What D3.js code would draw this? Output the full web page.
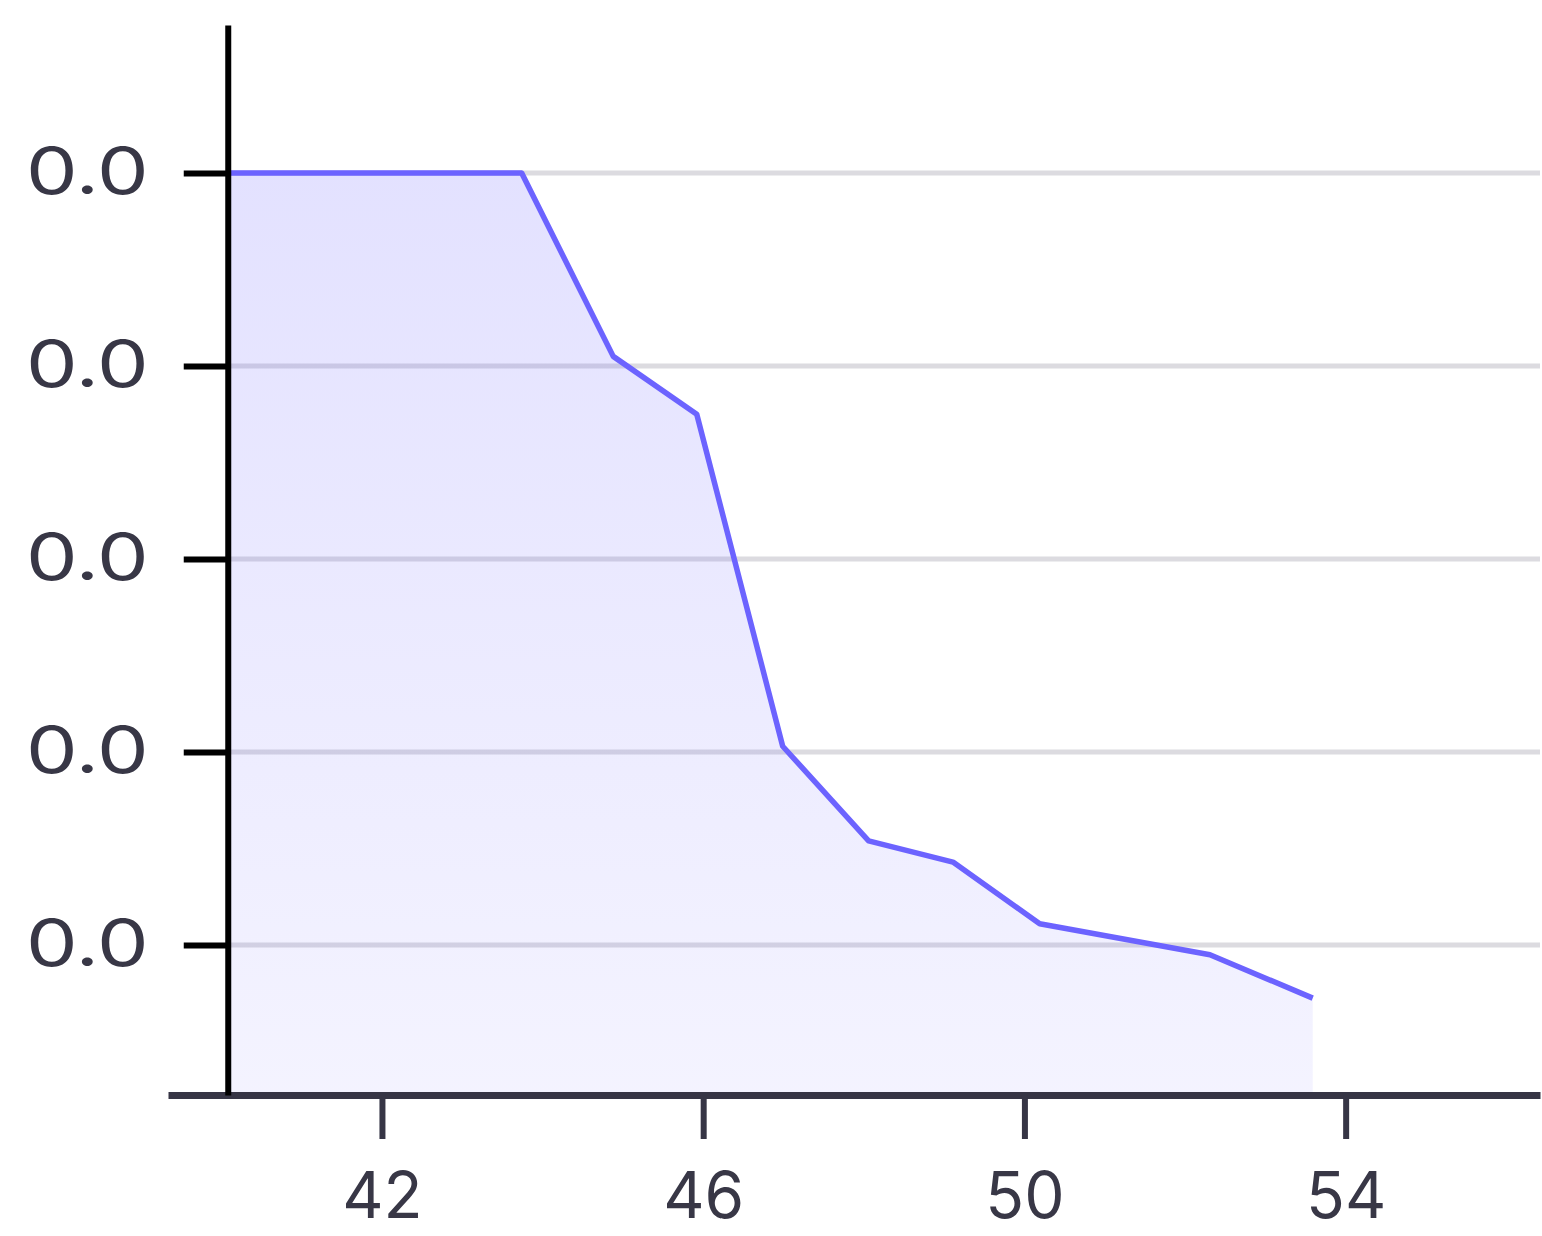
<!DOCTYPE html>
<html>
<head>
<meta charset="utf-8">
<script src="https://cdn.jsdelivr.net/npm/d3@7"></script>
<style>
  html, body { margin: 0; padding: 0; background: #ffffff; }
  svg { display: block; }
</style>
</head>
<body>
<svg id="chart" width="1542" height="1236"></svg>
<script>
const xValues = [40.08, 43.74, 44.88, 45.92, 46.99, 48.06, 49.11, 50.19, 52.31, 53.59];
const yValues = [0.0400, 0.0400, 0.0305, 0.0275, 0.0103, 0.0054, 0.0043, 0.0011, -0.0005, -0.00275];
const xTicks = [42, 46, 50, 54];
const yTicks = [0.00, 0.01, 0.02, 0.03, 0.04];

const data = xValues.map((x, i) => ({ x, y: yValues[i] }));

const svg = d3.select("#chart");
const x = d3.scaleLinear().domain([39.336, 56.42]).range([168, 1540]);
const y = d3.scaleLinear().domain([-0.00777, 0.04767]).range([1095, 25]);

const lineColor = "#6c63ff";
const textColor = "#383746";
const font = "Inter, 'Liberation Sans', sans-serif";

const defs = svg.append("defs");
const grad = defs.append("linearGradient").attr("id", "fillGrad")
  .attr("gradientUnits", "userSpaceOnUse")
  .attr("x1", 0).attr("x2", 0)
  .attr("y1", y(d3.max(yValues))).attr("y2", y.range()[0]);
grad.append("stop").attr("offset", "0%").attr("stop-color", lineColor).attr("stop-opacity", 0.19);
grad.append("stop").attr("offset", "100%").attr("stop-color", lineColor).attr("stop-opacity", 0.075);

const x0 = x(d3.min(xValues));

// gridlines
svg.append("g").selectAll("line").data(yTicks).join("line")
  .attr("x1", x0).attr("x2", 1540)
  .attr("y1", d => y(d)).attr("y2", d => y(d))
  .attr("stroke", "#dcdbe0").attr("stroke-width", 5);

// area
const area = d3.area().x(d => x(d.x)).y0(y.range()[0]).y1(d => y(d.y));
svg.append("path").datum(data).attr("d", area).attr("fill", "url(#fillGrad)");

// line
const line = d3.line().x(d => x(d.x)).y(d => y(d.y));
svg.append("path").datum(data).attr("d", line)
  .attr("fill", "none").attr("stroke", lineColor).attr("stroke-width", 5.5)
  .attr("stroke-linejoin", "round");

// x axis
const xAxis = d3.axisBottom(x).tickValues(xTicks).tickSize(44).tickPadding(34).tickSizeOuter(0).tickFormat(d3.format("d"));
const gx = svg.append("g").attr("transform", `translate(0,${y.range()[0]})`).call(xAxis);
gx.select(".domain").attr("stroke", "#363545").attr("stroke-width", 7);
gx.selectAll(".tick line").attr("stroke", "#363545").attr("stroke-width", 6);
gx.selectAll(".tick text").attr("fill", textColor).attr("font-size", 64).attr("font-family", font);

// y axis
const yAxis = d3.axisLeft(y).tickValues(yTicks).tickSize(44).tickPadding(38).tickSizeOuter(0).tickFormat(d3.format(".1f"));
const gy = svg.append("g").attr("transform", `translate(${x0},0)`).call(yAxis);
gy.select(".domain").attr("stroke", "#000").attr("stroke-width", 6);
gy.selectAll(".tick line").attr("stroke", "#000").attr("stroke-width", 6);
gy.selectAll(".tick text").attr("fill", textColor).attr("font-size", 64).attr("font-family", font)
  .attr("x", 0).attr("transform", "translate(-79,0) scale(1.28,1)");
</script>
</body>
</html>
